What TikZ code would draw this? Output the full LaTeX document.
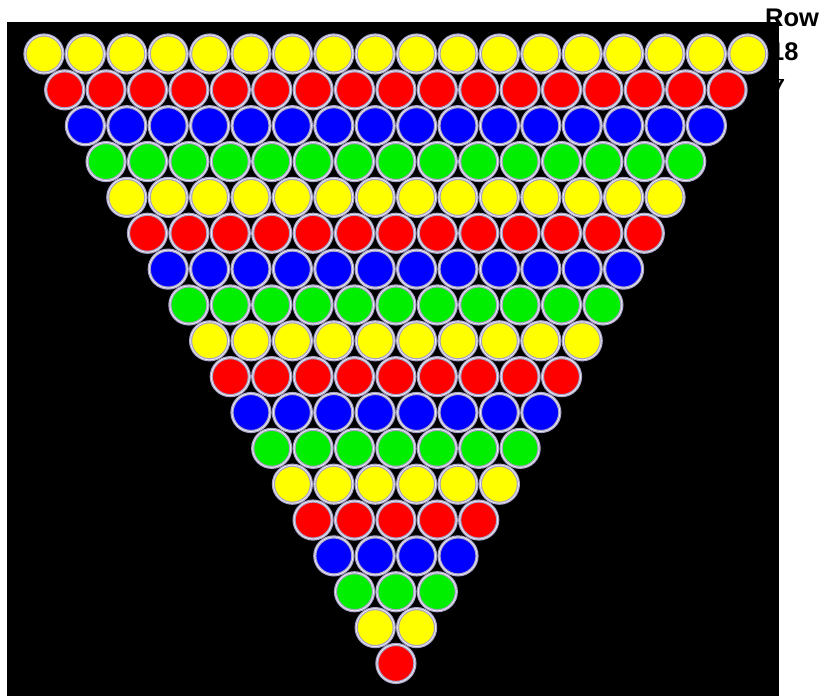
\documentclass[tikz,border=0pt]{standalone}
\usepackage{fontspec}
\setmainfont{Liberation Sans}
\usetikzlibrary{positioning}
\definecolor{ball0}{HTML}{FFFF00}
\definecolor{ball1}{HTML}{FF0000}
\definecolor{ball2}{HTML}{0000FF}
\definecolor{ball3}{HTML}{00EE00}
\definecolor{ringgray}{HTML}{A8A3C6}
\tikzset{
  ball/.style={circle, minimum size=38pt, inner sep=0pt, draw=ringgray,
    double=white!80!ringgray, double distance=0.8pt, line width=1.2pt},
  rowlab/.style={font=\bfseries\fontsize{25.5}{33}\selectfont, inner sep=0pt,
    anchor=base west},
}

\begin{document}
\begin{tikzpicture}[x=1pt, y=-1pt]
  \useasboundingbox (0,0) rectangle (821,696);
  % row label, partly behind the board
  \node[rowlab] (rowword) at (765,27) {Row};
  \node[rowlab] (rownum) at (770,60) {18};
  \begin{scope}
    \clip (760,79) rectangle (821,100);
    \node[rowlab] (rowold) at (771,95) {7};
  \end{scope}
  % board
  \fill[black] (7,22) rectangle (779,696);
  % balls, one row less each time
  \foreach \r in {0,...,17}{
    \pgfmathtruncatemacro{\n}{17-\r}
    \pgfmathtruncatemacro{\ci}{mod(\r,4)}
    \foreach \k in {0,...,\n}{
      \node[ball, fill=ball\ci] (b-\r-\k) at ({44+20.7*\r+41.4*\k},{54+35.85*\r}) {};
    }
  }
\end{tikzpicture}
\end{document}
